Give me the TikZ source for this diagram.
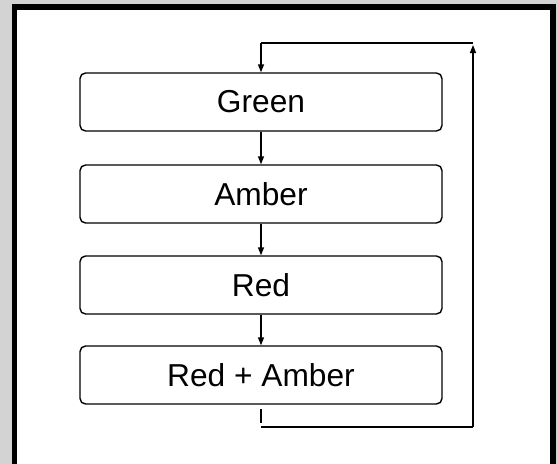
\documentclass[tikz,border=0pt]{standalone}
\usepackage{fontspec}
\setmainfont{Liberation Sans}
\usetikzlibrary{arrows.meta}
\definecolor{bggray}{RGB}{211,211,211}
\begin{document}
\begin{tikzpicture}[x=1pt,y=-1pt,
  stagebox/.style={draw=black, line width=1.4pt, rounded corners=5.5pt, fill=white,
    minimum width=362pt, minimum height=58pt, inner sep=0pt, font=\fontsize{31.7}{36}\selectfont},
  conn/.style={draw=black, line width=1.4pt},
  arr/.style={conn, -{Triangle[width=6pt,length=8pt]}}]
\useasboundingbox (0,0) rectangle (558,464);
\fill[bggray] (0,0) rectangle (558,464);
\fill[black] (12,4) rectangle (556,464);
\fill[white] (17,10) rectangle (550,464);
\node[stagebox] (g) at (261,102) {Green};
\node[stagebox] (a) at (261,194) {Amber};
\node[stagebox] (r) at (261,285) {Red};
\node[stagebox] (ra) at (261,375) {Red + Amber};
\draw[arr] (g) -- (a);
\draw[arr] (a) -- (r);
\draw[arr] (r) -- (ra);
\coordinate (t1) at (261,409);
\coordinate (t2) at (261,423);
\coordinate (c1) at (261,427);
\coordinate (c2) at (473,427);
\coordinate (c3) at (473,45);
\coordinate (c4) at (473,43);
\coordinate (c5) at (261,43);
\draw[conn] (t1) -- (t2);
\draw[conn] (c1) -- (c2);
\draw[arr] (c2) -- (c3);
\draw[conn] (c4) -- (c5);
\draw[arr] (c5) -- (g);
\end{tikzpicture}
\end{document}
